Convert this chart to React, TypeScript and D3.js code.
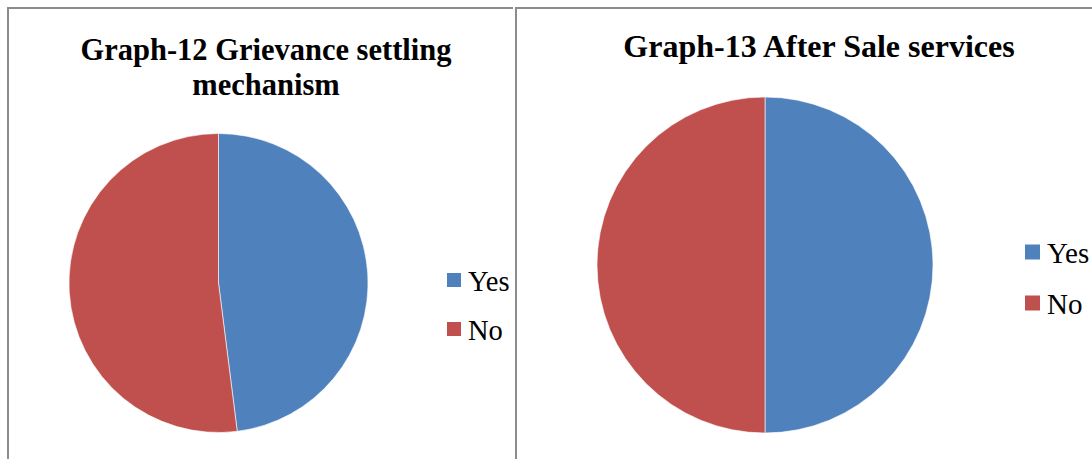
import React from "react";
import * as d3 from "d3";

const categories = ["Yes", "No"];
const grievanceValues = [48, 52];
const afterSaleValues = [50, 50];
const colors = ["#4F81BD", "#C0504D"];

const W = 1092;
const H = 459;
const FONT = "Times New Roman, Liberation Serif, Tinos, DejaVu Serif, serif";
const BORDER = "#8c8c8c";

type PanelProps = {
  values: number[];
  cx: number;
  cy: number;
  r: number;
  titleLines: string[];
  titleX: number;
  titleY: number;
  titleSize: number;
  legendX: number;
  legendY: number[];
  legendSize: number;
  fontSize: number;
};

function PiePanel(p: PanelProps) {
  const pie = d3.pie<number>().sort(null).value((d) => d);
  const arc = d3.arc<d3.PieArcDatum<number>>().innerRadius(0).outerRadius(p.r);
  const arcs = pie(p.values);
  return (
    <g>
      <text
        x={p.titleX}
        y={p.titleY}
        textAnchor="middle"
        style={{ fontFamily: FONT, fontWeight: "bold", fontSize: p.titleSize }}
        fill="#000"
      >
        {p.titleLines.map((line, i) => (
          <tspan key={i} x={p.titleX} dy={i === 0 ? 0 : 35}>
            {line}
          </tspan>
        ))}
      </text>
      <g transform={`translate(${p.cx},${p.cy})`}>
        {arcs.map((a, i) => (
          <path key={i} d={arc(a) || ""} fill={colors[i]} stroke="#fff" strokeWidth={0.6} />
        ))}
      </g>
      {categories.map((c, i) => (
        <g key={c}>
          <rect
            x={p.legendX}
            y={p.legendY[i] - p.legendSize / 2 - 1}
            width={p.legendSize}
            height={p.legendSize}
            fill={colors[i]}
          />
          <text
            x={p.legendX + p.legendSize + 7}
            y={p.legendY[i] + 10}
            style={{ fontFamily: FONT, fontSize: p.fontSize }}
            fill="#000"
          >
            {c}
          </text>
        </g>
      ))}
    </g>
  );
}

export default function App() {
  return (
    <svg
      width={W}
      height={H}
      style={{ position: "absolute", left: 0, top: 0, background: "#fff" }}
    >
      <rect x={0} y={0} width={W} height={H} fill="#fff" />
      {/* panel frames */}
      <line x1={7} y1={8} x2={513} y2={8} stroke={BORDER} strokeWidth={2} />
      <line x1={8} y1={7} x2={8} y2={H} stroke={BORDER} strokeWidth={2} />
      <line x1={515} y1={8} x2={W} y2={8} stroke={BORDER} strokeWidth={2} />
      <line x1={516} y1={7} x2={516} y2={H} stroke={BORDER} strokeWidth={2} />

      <PiePanel
        values={grievanceValues}
        cx={218.5}
        cy={283}
        r={149.5}
        titleLines={["Graph-12 Grievance settling", "mechanism"]}
        titleX={266}
        titleY={60}
        titleSize={30.5}
        legendX={447}
        legendY={[281, 330]}
        legendSize={14}
        fontSize={28.5}
      />
      <PiePanel
        values={afterSaleValues}
        cx={765}
        cy={265}
        r={168}
        titleLines={["Graph-13 After Sale services"]}
        titleX={819}
        titleY={57}
        titleSize={32}
        legendX={1025}
        legendY={[253, 304]}
        legendSize={15}
        fontSize={29}
      />
    </svg>
  );
}
